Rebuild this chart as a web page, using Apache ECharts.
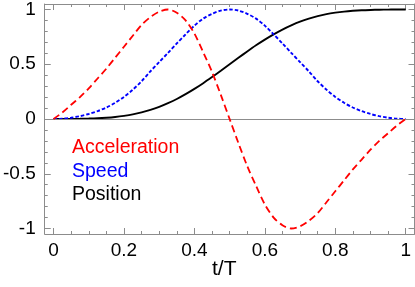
<!DOCTYPE html>
<html>
<head>
<meta charset="utf-8">
<script src="https://cdn.jsdelivr.net/npm/echarts@6/dist/echarts.min.js"></script>
<style>
html,body{margin:0;padding:0;background:#fff;}
#chart{width:415px;height:287px;}
</style>
</head>
<body>
<div id="chart"></div>
<script>
const tValues = [0, 0.025, 0.05, 0.075, 0.1, 0.125, 0.15, 0.175, 0.2, 0.225, 0.25, 0.275, 0.3, 0.325, 0.35, 0.375, 0.4, 0.425, 0.45, 0.475, 0.5,
  0.525, 0.55, 0.575, 0.6, 0.625, 0.65, 0.675, 0.7, 0.725, 0.75, 0.775, 0.8, 0.825, 0.85, 0.875, 0.9, 0.925, 0.95, 0.975, 1];
const acceleration = [0, 0.06, 0.13, 0.2, 0.28, 0.37, 0.46, 0.56, 0.66, 0.76, 0.86, 0.93, 0.98, 1.0, 0.97, 0.9, 0.78, 0.61, 0.43, 0.22, 0,
  -0.22, -0.43, -0.61, -0.78, -0.9, -0.97, -1.0, -0.98, -0.93, -0.86, -0.76, -0.66, -0.56, -0.46, -0.37, -0.28, -0.2, -0.13, -0.06, 0];
const speed = [0, 0.003, 0.012, 0.026, 0.046, 0.072, 0.105, 0.148, 0.202, 0.268, 0.345, 0.435, 0.52, 0.604, 0.69, 0.773, 0.853, 0.917, 0.961, 0.99, 1.0,
  0.99, 0.961, 0.917, 0.853, 0.773, 0.69, 0.604, 0.52, 0.435, 0.345, 0.268, 0.202, 0.148, 0.105, 0.072, 0.046, 0.026, 0.012, 0.003, 0];
const position = [0, 0, 0.001, 0.002, 0.004, 0.007, 0.012, 0.019, 0.029, 0.042, 0.06, 0.083, 0.111, 0.145, 0.183, 0.227, 0.275, 0.327, 0.383, 0.441, 0.5,
  0.559, 0.617, 0.673, 0.725, 0.773, 0.817, 0.855, 0.889, 0.917, 0.94, 0.958, 0.971, 0.981, 0.988, 0.993, 0.996, 0.998, 0.999, 1, 1];
const xTickLabels = [0, 0.2, 0.4, 0.6, 0.8, 1];
const xMinorTicks = [0, 0.05, 0.1, 0.15, 0.2, 0.25, 0.3, 0.35, 0.4, 0.45, 0.5, 0.55, 0.6, 0.65, 0.7, 0.75, 0.8, 0.85, 0.9, 0.95, 1];
const yTickLabels = [-1, -0.5, 0, 0.5, 1];
const yMinorTicks = [-1, -0.9, -0.8, -0.7, -0.6, -0.5, -0.4, -0.3, -0.2, -0.1, 0, 0.1, 0.2, 0.3, 0.4, 0.5, 0.6, 0.7, 0.8, 0.9, 1];
const seriesNames = ['Acceleration', 'Speed', 'Position'];
const xAxisTitle = 't/T';

const FONT = 'Liberation Sans, Arial, sans-serif';
const GRAY = '#8c8c8c';
const X_MIN = -0.025, X_MAX = 1.025, Y_MIN = -1.05, Y_MAX = 1.05;

function pairs(ys) { return tValues.map((t, i) => [t, ys[i]]); }

function xAx(pos, ticks, len, showLine, labels) {
  return {
    type: 'value', position: pos, min: X_MIN, max: X_MAX, gridIndex: 0,
    axisLine: { show: showLine, onZero: false, lineStyle: { color: GRAY, width: 1 } },
    axisTick: { show: true, inside: true, length: len, customValues: ticks, lineStyle: { color: GRAY, width: 1 } },
    axisLabel: labels ? { show: true, customValues: labels, margin: 7, fontSize: 19, color: '#000', fontFamily: FONT } : { show: false },
    splitLine: { show: false }
  };
}
function yAx(pos, ticks, len, showLine, labels) {
  return {
    type: 'value', position: pos, min: Y_MIN, max: Y_MAX, gridIndex: 0,
    axisLine: { show: showLine, onZero: false, lineStyle: { color: GRAY, width: 1 } },
    axisTick: { show: true, inside: true, length: len, customValues: ticks, lineStyle: { color: GRAY, width: 1 } },
    axisLabel: labels ? { show: true, customValues: labels, margin: 9, fontSize: 19, color: '#000', fontFamily: FONT } : { show: false },
    splitLine: { show: false }
  };
}

const chart = echarts.init(document.getElementById('chart'), null, { renderer: 'canvas' });
const colors = ['#ff0000', '#0000ff', '#000000'];
const option = {
  animation: false,
  backgroundColor: '#ffffff',
  grid: { left: 43.5, top: 4, width: 371, height: 230, containLabel: false },
  xAxis: [
    xAx('bottom', xMinorTicks, 3, true, xTickLabels),
    xAx('bottom', xTickLabels, 6, false, null),
    xAx('top', xMinorTicks, 3, true, null),
    xAx('top', xTickLabels, 6, false, null)
  ],
  yAxis: [
    yAx('left', yMinorTicks, 3, true, yTickLabels),
    yAx('left', yTickLabels, 6, false, null),
    yAx('right', yMinorTicks, 3, true, null),
    yAx('right', yTickLabels, 6, false, null)
  ],
  series: [
    {
      name: seriesNames[2], type: 'line', data: pairs(position), showSymbol: false, smooth: 0.3, z: 3,
      lineStyle: { color: colors[2], width: 1.9, type: 'solid' },
      markLine: {
        silent: true, symbol: ['none', 'none'], label: { show: false },
        lineStyle: { color: GRAY, width: 1, type: 'solid' },
        data: [{ yAxis: 0 }]
      }
    },
    {
      name: seriesNames[1], type: 'line', data: pairs(speed), showSymbol: false, smooth: 0.3, z: 4,
      lineStyle: { color: colors[1], width: 1.9, type: [3.5, 2] }
    },
    {
      name: seriesNames[0], type: 'line', data: pairs(acceleration), showSymbol: false, smooth: 0.3, z: 5,
      lineStyle: { color: colors[0], width: 1.8, type: [7, 4] }
    }
  ],
  graphic: [
    { type: 'text', left: 72, top: 138, style: { text: seriesNames[0], fill: colors[0], font: '19.5px ' + FONT } },
    { type: 'text', left: 72, top: 161.5, style: { text: seriesNames[1], fill: colors[1], font: '19.5px ' + FONT } },
    { type: 'text', left: 72, top: 185, style: { text: seriesNames[2], fill: colors[2], font: '19.5px ' + FONT } },
    { type: 'text', left: 212, top: 259, style: { text: xAxisTitle, fill: '#000', font: '21px ' + FONT } }
  ]
};
chart.setOption(option);
</script>
</body>
</html>
